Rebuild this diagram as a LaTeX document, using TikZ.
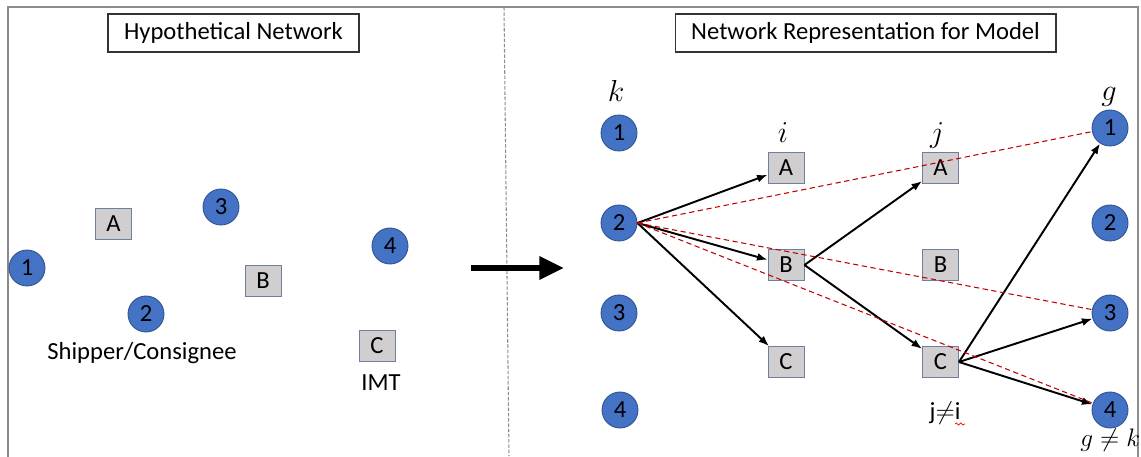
\documentclass[tikz,border=0pt]{standalone}
\usepackage{fontspec}
\setmainfont{Carlito}
\usetikzlibrary{arrows.meta,decorations.pathmorphing}
\definecolor{nodeblue}{HTML}{4472C4}
\definecolor{nodeedge}{HTML}{2F528F}
\definecolor{boxfill}{HTML}{D0CECE}
\definecolor{boxedge}{HTML}{6F7F9F}
\definecolor{framegray}{HTML}{8C8C8C}
\definecolor{dashred}{HTML}{C00000}
\begin{document}
\begin{tikzpicture}[x=0.02cm,y=-0.02cm,
  font=\fontsize{14}{16}\selectfont,
  site/.style={circle,fill=nodeblue,draw=nodeedge,line width=0.5pt,minimum size=0.72cm,inner sep=0pt},
  imt/.style={rectangle,fill=boxfill,draw=boxedge,line width=0.5pt,minimum width=0.72cm,minimum height=0.62cm,inner sep=0pt},
  titlebox/.style={rectangle,draw=black!80,line width=0.6pt,minimum height=0.76cm,inner sep=0pt},
  flow/.style={-{Latex[length=6pt,width=4.5pt]},line width=1.1pt},
  ghost/.style={dashred,line width=0.6pt,dash pattern=on 3pt off 2pt},
  lbl/.style={inner sep=0pt},
  mlbl/.style={inner sep=0pt,font=\fontsize{16}{18}\selectfont}]
\useasboundingbox (0,0) rectangle (1141,456);
% frame and divider
\draw[framegray,line width=1pt] (8,460) -- (8,7) -- (1138,7) -- (1138,460);
\draw[framegray,line width=0.6pt,dash pattern=on 2pt off 1pt] (504,7) -- (509,456);
% left panel
\node[titlebox,minimum width=5.02cm] (t1) at (233.5,33) {Hypothetical Network};
\node[imt] (LA) at (113.5,224) {A};
\node[imt] (LB) at (263,281) {B};
\node[imt] (LC) at (377,346) {C};
\node[site] (L1) at (27,268) {1};
\node[site] (L2) at (146,314) {2};
\node[site] (L3) at (221,207) {3};
\node[site] (L4) at (390,246) {4};
\node[lbl] (ship) at (142,353) {Shipper/Consignee};
\node[lbl] (imtl) at (381,383) {IMT};
% big arrow
\coordinate (bigS) at (471,268);
\coordinate (bigE) at (564,268);
\draw[line width=3.4pt,-{Triangle[length=14pt,width=12.5pt]}] (bigS) -- (bigE);
% right panel
\node[titlebox,minimum width=7.62cm] (t2) at (865.5,33) {Network Representation for Model};
\node[mlbl] (lk) at (616,91) {$k$};
\node[mlbl] (li) at (783,133) {$i$};
\node[mlbl] (lj) at (937,135) {$j$};
\node[mlbl] (lg) at (1109,97) {$g$};
\node[site] (k1) at (619,133) {1};
\node[site] (k2) at (619,223) {2};
\node[site] (k3) at (619,313) {3};
\node[site] (k4) at (620,410) {4};
\node[imt] (iA) at (786,168) {A};
\node[imt] (iB) at (786,265) {B};
\node[imt] (iC) at (786,362) {C};
\node[imt] (jA) at (940.5,168) {A};
\node[imt] (jB) at (940.5,265) {B};
\node[imt] (jC) at (940.5,362) {C};
\node[site] (g1) at (1110,128) {1};
\node[site] (g2) at (1110,223) {2};
\node[site] (g3) at (1110,313) {3};
\node[site] (g4) at (1110,410) {4};
\node[lbl] (jne) at (945,413) {j$\neq$i};
\draw[red,line width=0.4pt,decorate,decoration={snake,amplitude=0.6pt,segment length=2.5pt}] (955,424) -- (965,424);
\node[lbl,anchor=west] (gne) at (1080,440) {$g \neq k$};
% connectors
\draw[flow] (k2.east) -- (iA);
\draw[flow] (k2.east) -- (iB);
\draw[flow] (k2.east) -- (iC);
\draw[flow] (iB.east) -- (jA);
\draw[flow] (iB.east) -- (jC);
\draw[flow] (jC.east) -- (g1);
\draw[flow] (jC.east) -- (g3);
\draw[flow] (jC.east) -- (g4);
\draw[ghost] (k2.east) -- (g1);
\draw[ghost] (k2.east) -- (g3);
\draw[ghost] (k2.east) -- (g4);
\end{tikzpicture}
\end{document}
